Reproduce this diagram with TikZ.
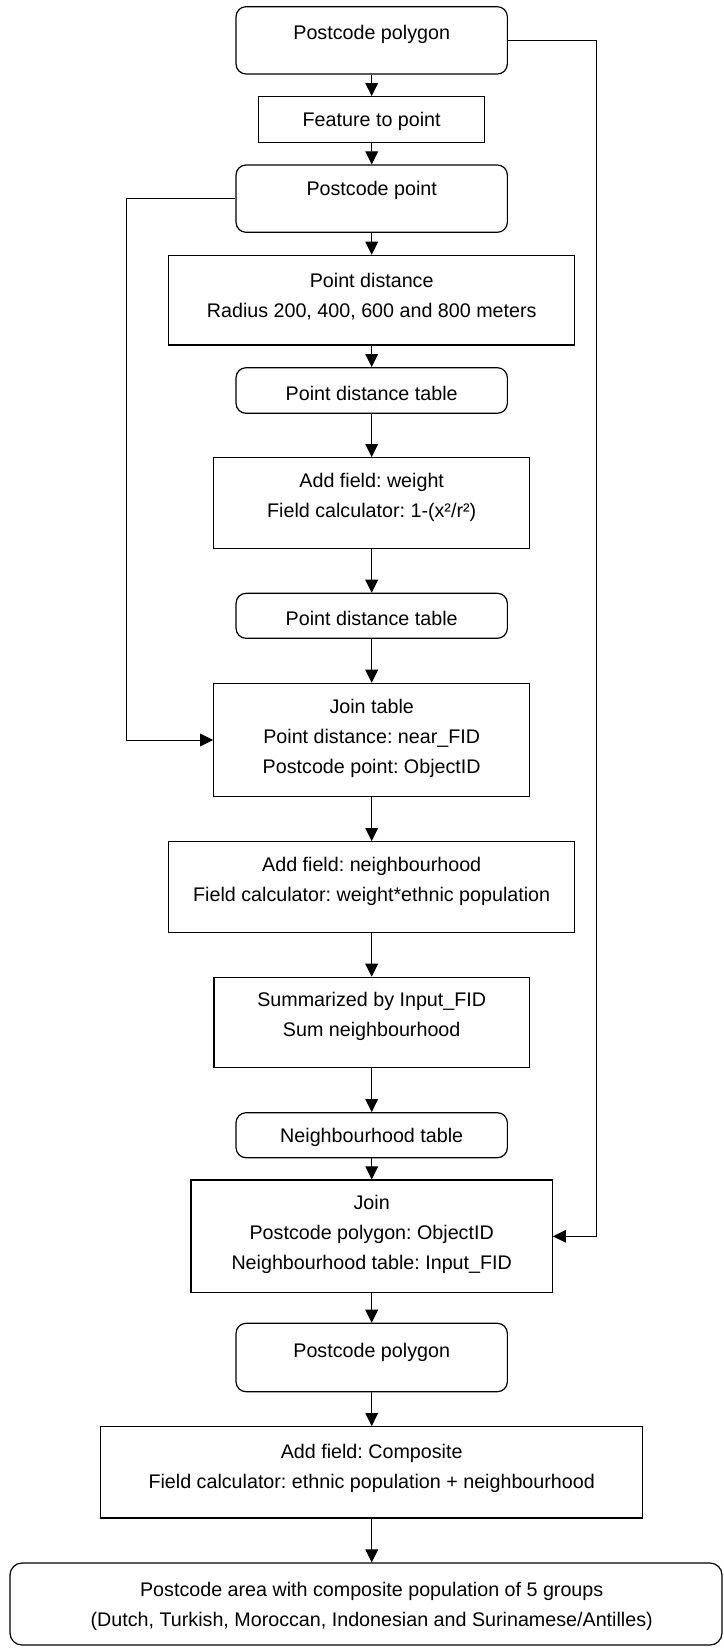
\documentclass[tikz,border=0pt]{standalone}
\usepackage{fontspec}
\setmainfont{Liberation Sans}
\usetikzlibrary{arrows.meta}
\frenchspacing
\begin{document}
\begin{tikzpicture}[x=1pt,y=-1pt,
  box/.style={draw=black, line width=1.2pt, inner sep=0pt},
  rbox/.style={box, rounded corners=10pt},
  txt/.style={align=center, font=\fontsize{19.7}{30}\selectfont\frenchspacing, inner sep=0pt},
  arr/.style={line width=1pt, -{Triangle[length=13pt,width=12.7pt]}},
  ln/.style={line width=1pt}]
\useasboundingbox (0,0) rectangle (723,1648);

% boxes
\node[rbox, minimum width=271.3pt, minimum height=67.3pt] (b1) at (371.7,40.35) {};
\node[box,  minimum width=226pt,   minimum height=46pt]   (b2) at (371.7,119.7) {};
\node[rbox, minimum width=271.3pt, minimum height=67.3pt] (b3) at (371.7,198.65) {};
\node[box,  minimum width=406pt,   minimum height=89.7pt] (b4) at (371.7,300.15) {};
\node[rbox, minimum width=271.3pt, minimum height=45.6pt] (b5) at (371.7,390.5) {};
\node[box,  minimum width=316pt,   minimum height=90.6pt] (b6) at (371.7,503) {};
\node[rbox, minimum width=271.3pt, minimum height=45pt]   (b7) at (371.7,615.8) {};
\node[box,  minimum width=316pt,   minimum height=113.4pt] (b8) at (371.7,740) {};
\node[box,  minimum width=406pt,   minimum height=91pt]   (b9) at (371.7,887.2) {};
\node[box,  minimum width=315.6pt, minimum height=90pt]   (b10) at (371.7,1022.3) {};
\node[rbox, minimum width=271.3pt, minimum height=45pt]   (b11) at (371.7,1135.2) {};
\node[box,  minimum width=361.3pt, minimum height=112.7pt] (b12) at (371.7,1236.35) {};
\node[rbox, minimum width=271.3pt, minimum height=68.4pt] (b13) at (371.7,1357.5) {};
\node[box,  minimum width=542.3pt, minimum height=91.3pt] (b14) at (371.7,1472.35) {};
\node[box, rounded corners=12pt, minimum width=712pt, minimum height=82pt] (b15) at (366,1604) {};

% texts
\node[txt] (t1) at (371.7,34.3) {Postcode polygon};
\node[txt] (t2) at (371.7,121) {Feature to point};
\node[txt] (t3) at (371.7,190.5) {Postcode point};
\node[txt] (t4) at (371.7,297) {Point distance\\Radius 200, 400, 600 and 800 meters};
\node[txt] (t5) at (371.7,393.5) {Point distance table};
\node[txt] (t6) at (371.7,497) {Add field: weight\\Field calculator: 1-(x²/r²)};
\node[txt] (t7) at (371.7,618) {Point distance table};
\node[txt] (t8) at (371.7,738) {Join table\\Point distance: near\_FID\\Postcode point: ObjectID};
\node[txt] (t9) at (371.7,881) {Add field: neighbourhood\\Field calculator: weight*ethnic population};
\node[txt] (t10) at (371.7,1016) {Summarized by Input\_FID\\Sum neighbourhood};
\node[txt] (t11) at (371.7,1137) {Neighbourhood table};
\node[txt] (t12) at (371.7,1234) {Join\\Postcode polygon: ObjectID\\Neighbourhood table: Input\_FID};
\node[txt] (t13) at (371.7,1352) {Postcode polygon};
\node[txt] (t14) at (371.7,1468) {Add field: Composite\\Field calculator: ethnic population + neighbourhood};
\node[txt] (t15) at (371.7,1606.7) {Postcode area with composite population of 5 groups\\(Dutch, Turkish, Moroccan, Indonesian and Surinamese/Antilles)};

% vertical flow
\draw[arr] (b1.south) -- (b2.north);
\draw[arr] (b2.south) -- (b3.north);
\draw[arr] (b3.south) -- (b4.north);
\draw[arr] (b4.south) -- (b5.north);
\draw[arr] (b5.south) -- (b6.north);
\draw[arr] (b6.south) -- (b7.north);
\draw[arr] (b7.south) -- (b8.north);
\draw[arr] (b8.south) -- (b9.north);
\draw[arr] (b9.south) -- (b10.north);
\draw[arr] (b10.south) -- (b11.north);
\draw[arr] (b11.south) -- (b12.north);
\draw[arr] (b12.south) -- (b13.north);
\draw[arr] (b13.south) -- (b14.north);
\draw[arr] (b14.south) -- (b15.north -| b14.south);

% side connectors
\coordinate (rrail) at (596.7,0);
\coordinate (lrail) at (126.7,0);
\draw[arr] (b1.east) -- (b1.east -| rrail) -- (rrail |- b12.east) -- (b12.east);
\draw[arr] (b3.west) -- (b3.west -| lrail) -- (lrail |- b8.west) -- (b8.west);
\end{tikzpicture}
\end{document}
